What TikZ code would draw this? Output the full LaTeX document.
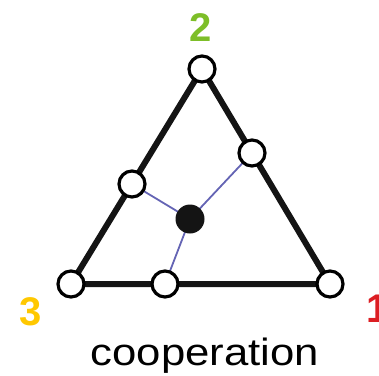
\documentclass[tikz,border=0pt]{standalone}
\usepackage{fontspec}
\setmainfont{Liberation Sans}
\definecolor{lgreen}{RGB}{125,190,40}
\definecolor{lyellow}{RGB}{255,200,0}
\definecolor{lred}{RGB}{220,30,35}
\definecolor{lblue}{RGB}{100,100,180}
\begin{document}
\begin{tikzpicture}[x=1pt,y=-1pt,
  opencirc/.style={circle,draw=black,line width=3.2pt,fill=white,minimum size=26pt,inner sep=0pt},
  dotcirc/.style={circle,fill=black!92,minimum size=29pt,inner sep=0pt},
  edge/.style={line width=6pt,black!92},
  link/.style={line width=1.8pt,lblue},
  num/.style={font=\fontsize{40}{40}\selectfont\bfseries,inner sep=0pt}]
\useasboundingbox (0,0) rectangle (379,375);
\coordinate (T) at (202,69);
\coordinate (L) at (71,284);
\coordinate (R) at (330,284);
\coordinate (LM) at (132,184);
\coordinate (RM) at (252,153);
\coordinate (BM) at (165,284);
\coordinate (C) at (190,219);
\draw[edge,line join=round] (T) -- (L) -- (R) -- cycle;
\draw[link] (C) -- (LM);
\draw[link] (C) -- (RM);
\draw[link] (C) -- (BM);
\node[opencirc] (nT) at (T) {};
\node[opencirc] (nL) at (L) {};
\node[opencirc] (nR) at (R) {};
\node[opencirc] (nLM) at (LM) {};
\node[opencirc] (nRM) at (RM) {};
\node[opencirc] (nBM) at (BM) {};
\node[dotcirc] (nC) at (C) {};
\node[num,text=lgreen] (l2) at (201,28) {2};
\node[num,text=lyellow] (l3) at (31,312) {3};
\node[num,text=lred,anchor=west] (l1) at (366,309) {1};
\node[font=\fontsize{38}{38}\selectfont,inner sep=0pt,xscale=1.15] (cap) at (205,356) {cooperation};
\end{tikzpicture}
\end{document}
